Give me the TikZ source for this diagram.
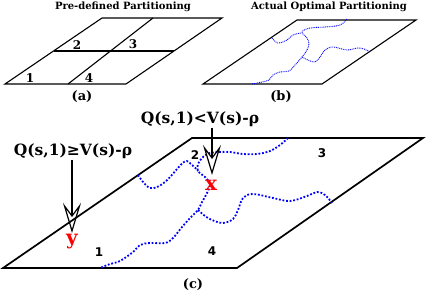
\documentclass[tikz,border=0pt]{standalone}
\usepackage{fontspec}
\setmainfont{DejaVu Serif}
\newfontfamily\numfont{DejaVu Sans}
\usetikzlibrary{arrows.meta, calc}

\begin{document}
\begin{tikzpicture}[
        x=1pt, y=-1pt,
        >={Stealth[open, length=30pt, width=18pt, inset=12pt, line width=1.2pt]},
        plane/.style={draw=black, line width=1.1pt, line join=miter},
        bigplane/.style={draw=black, line width=1.7pt, line join=miter},
        cut/.style={draw=black, line width=1.1pt},
        bound/.style={blue, line width=0.9pt, dash pattern=on 0.9pt off 0.9pt},
        bigbound/.style={blue, line width=1.8pt, dash pattern=on 1.8pt off 1.8pt},
        title/.style={font=\bfseries\fontsize{10}{12}\selectfont},
        cell/.style={font=\bfseries\fontsize{12}{14}\selectfont},
        bigcell/.style={font=\numfont\bfseries\fontsize{12}{14}\selectfont},
        caption/.style={font=\bfseries\fontsize{13}{15}\selectfont},
        cond/.style={font=\bfseries\fontsize{15.5}{18}\selectfont, inner sep=1pt},
        statemark/.style={text=red, font=\bfseries\fontsize{20}{22}\selectfont, inner sep=0pt}
    ]
        \useasboundingbox (0,0) rectangle (428,292);

        % (a) pre-defined partitioning
        \coordinate (a1) at (5,84);
        \coordinate (a2) at (126,84);
        \coordinate (a3) at (222,18);
        \coordinate (a4) at (102,18);
        \draw[plane] (a1) -- (a2) -- (a3) -- (a4) -- cycle;
        \draw[cut] ($(a1)!0.5!(a4)$) -- ($(a2)!0.5!(a3)$);
        \draw[cut] (68,84) -- (153,18);
        \node[cell] (a1l) at (30,78) {1};
        \node[cell] (a2l) at (77,45) {2};
        \node[cell] (a3l) at (133,44) {3};
        \node[cell] (a4l) at (89,78) {4};
        \node[title] (atitle) at (123,7) {Pre-defined Partitioning};
        \node[caption] (acap) at (82,97) {(a)};

        % (b) actual optimal partitioning
        \coordinate (b1) at (203,84);
        \coordinate (b2) at (322,84);
        \coordinate (b3) at (416,20);
        \coordinate (b4) at (297,20);
        \draw[plane] (b1) -- (b2) -- (b3) -- (b4) -- cycle;
        \draw[bound] plot[smooth, tension=0.6] coordinates {(272,38) (278,43) (287,40) (293,35) (301,33)};
        \draw[bound] plot[smooth, tension=0.6] coordinates {(347,19) (340,25) (325,27) (310,28) (302,32)
            (307,38) (309,44) (307,50) (302,57) (295,65) (289,71) (280,72) (273,75) (269,80) (262,82) (252,84)};
        \draw[bound] plot[smooth, tension=0.6] coordinates {(302,57) (308,60) (315,62) (320,57) (325,50)
            (333,47) (347,50) (357,48) (364,49) (370,52)};
        \node[title] (btitle) at (329,7) {Actual Optimal Partitioning};
        \node[caption] (bcap) at (281,97) {(b)};

        % (c) zoomed view with two states
        \coordinate (c1) at (3,268);
        \coordinate (c2) at (237,268);
        \coordinate (c3) at (423,138);
        \coordinate (c4) at (192,138);
        \draw[bigplane] (c1) -- (c2) -- (c3) -- (c4) -- cycle;
        \draw[bigbound] plot[smooth, tension=0.6] coordinates {(138,175) (150,188) (165,182) (184,162) (192,165) (198,171)};
        \draw[bigbound] plot[smooth, tension=0.6] coordinates {(288,138) (280,145) (270,151) (257,154) (243,154)
            (230,152) (220,152) (210,153) (203,157) (198,164) (198,171) (205,177) (210,184) (207,193)
            (202,202) (198,210) (192,216) (182,227) (173,238) (165,243) (150,243) (140,245) (133,252)
            (120,261) (110,264) (100,268)};
        \draw[bigbound] plot[smooth, tension=0.6] coordinates {(198,210) (205,216) (212,220) (223,223) (233,219)
            (238,210) (243,198) (253,194) (273,198) (290,201) (307,196) (317,192) (325,195) (332,203)};
        \node[bigcell] (c1l) at (99,252) {1};
        \node[bigcell] (c2l) at (195,155) {2};
        \node[bigcell] (c3l) at (322,153) {3};
        \node[bigcell] (c4l) at (212,251) {4};
        \node[caption] (ccap) at (193,285) {(c)};

        % states and their conditions
        \node[statemark] (y) at (72,242) {y};
        \node[statemark] (x) at (211,185) {x};
        \coordinate (tipy) at (72,233);
        \coordinate (tipx) at (212,175);
        \node[cond] (qy) at (73,151) {Q(s,1)≥V(s)-ρ};
        \node[cond] (qx) at (200,119) {Q(s,1)<V(s)-ρ};
        \draw[->, line width=1.3pt] (qy.south -| tipy) -- (tipy);
        \draw[->, line width=1.3pt] (qx.south -| tipx) -- (tipx);
    \end{tikzpicture}
\end{document}
